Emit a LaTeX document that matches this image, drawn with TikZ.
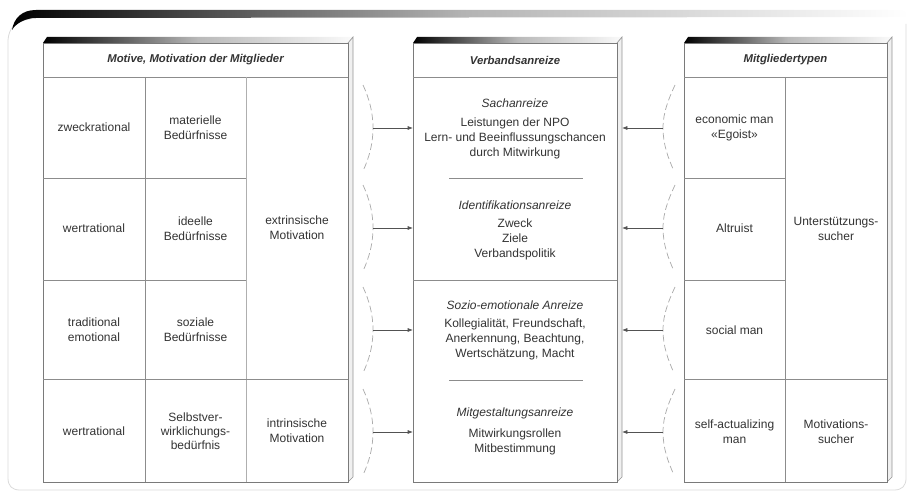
\documentclass[tikz,border=0pt]{standalone}
\usepackage{fontspec}
\setmainfont{Liberation Sans}
\usetikzlibrary{arrows.meta}
\definecolor{ink}{HTML}{333333}
\definecolor{rulecol}{HTML}{8C8C8C}
\definecolor{edgecol}{HTML}{7A7A7A}

\begin{document}
\begin{tikzpicture}[x=0.75pt,y=-0.75pt,
  txt/.style={text=ink, font=\fontsize{9}{11.25}\selectfont, align=center, inner sep=0pt},
  ttl/.style={text=ink, font=\fontsize{9}{11.25}\selectfont\itshape, align=center, inner sep=0pt},
  hdr/.style={text=ink, font=\fontsize{8.5}{10}\selectfont\bfseries\itshape, align=center, inner sep=0pt},
  gridline/.style={draw=rulecol, line width=0.5pt},
  face/.style={draw=edgecol, line width=0.6pt, fill=white, outer sep=0pt, inner sep=0pt, anchor=north west},
  sideface/.style={draw=edgecol!80, line width=0.5pt, fill=gray!12},
  topface/.style={left color=black, right color=gray!4, middle color=gray!55},
  brace/.style={draw=gray!65, dash pattern=on 5pt off 2.5pt, line width=0.55pt},
  conn/.style={draw=ink!85, line width=0.5pt, -{Latex[length=4pt,width=3pt]}},
]
\useasboundingbox (0,0) rectangle (912,495);

% outer frame with its shaded top bar
\draw[gray!28, line width=0.6pt] (30,19) .. controls (15,21) and (9,28) .. (8,40)
  -- (8,478) .. controls (8,486) and (12,490) .. (20,490) -- (894,490)
  .. controls (902,490) and (906,486) .. (906,478) -- (906,24);
\shade[left color=black, right color=white, middle color=gray!60]
  (12,30) .. controls (14,18) and (22,10) .. (36,10) -- (900,10)
  .. controls (904,10) and (906,12) .. (908,17) -- (36,18)
  .. controls (26,18) and (16,23) .. (12,30) -- cycle;

% ---- left slab: motives
\shade[topface] (43,43) -- (47,37) -- (353,37) -- (348,43) -- cycle;
\draw[sideface] (348,43) -- (353,37) -- (353,477) -- (348,482) -- cycle;
\node[face, minimum width=305*0.75pt, minimum height=439*0.75pt] (motive) at (43,43) {};
\draw[gridline] (43,77) -- (348,77);
\draw[gridline] (145,77) -- (145,482);
\draw[gridline, draw=rulecol!70] (246,77) -- (246,482);
\draw[gridline] (43,178) -- (246,178);
\draw[gridline] (43,280) -- (246,280);
\draw[gridline] (43,379) -- (348,379);

\node[hdr] (motiveH) at (195.5,60) {Motive, Motivation der Mitglieder};
\node[txt] (m11) at (94,127.5) {zweckrational};
\node[txt] (m12) at (195.5,127.5) {materielle\\Bedürfnisse};
\node[txt] (m21) at (94,228.5) {wertrational};
\node[txt] (m22) at (195.5,228.5) {ideelle\\Bedürfnisse};
\node[txt] (mext) at (297,228) {extrinsische\\Motivation};
\node[txt] (m31) at (94,329.5) {traditional\\emotional};
\node[txt] (m32) at (195.5,329.5) {soziale\\Bedürfnisse};
\node[txt] (m41) at (94,431) {wertrational};
\node[txt, font=\fontsize{9}{10.5}\selectfont] (m42) at (195.5,431) {Selbstver-\\wirklichungs-\\bedürfnis};
\node[txt] (mint) at (297,431) {intrinsische\\Motivation};

% ---- middle slab: incentives
\shade[topface] (413,43) -- (417,37) -- (622,37) -- (617,43) -- cycle;
\draw[sideface] (617,43) -- (622,37) -- (622,477) -- (617,482) -- cycle;
\node[face, minimum width=204*0.75pt, minimum height=439*0.75pt] (mid) at (413,43) {};
\draw[gridline] (413,77) -- (617,77);
\draw[gridline] (413,280) -- (617,280);
\draw[gridline] (449,178) -- (583,178);
\draw[gridline] (449,380) -- (583,380);

\node[hdr] (midH) at (515,60) {Verbandsanreize};
\node[ttl] (a1) at (515,103) {Sachanreize};
\node[txt] (a1b) at (515,138) {Leistungen der NPO\\Lern- und Beeinflussungschancen\\durch Mitwirkung};
\node[ttl] (a2) at (515,205) {Identifikationsanreize};
\node[txt] (a2b) at (515,239.5) {Zweck\\Ziele\\Verbandspolitik};
\node[ttl] (a3) at (515,305) {Sozio-emotionale Anreize};
\node[txt] (a3b) at (515,339.5) {Kollegialität, Freundschaft,\\Anerkennung, Beachtung,\\Wertschätzung, Macht};
\node[ttl] (a4) at (515,413) {Mitgestaltungsanreize};
\node[txt] (a4b) at (515,441.5) {Mitwirkungsrollen\\Mitbestimmung};

% ---- right slab: member types
\shade[topface] (684,43) -- (688,37) -- (892,37) -- (887,43) -- cycle;
\draw[sideface] (887,43) -- (892,37) -- (892,477) -- (887,482) -- cycle;
\node[face, minimum width=203*0.75pt, minimum height=439*0.75pt] (types) at (684,43) {};
\draw[gridline] (684,77) -- (887,77);
\draw[gridline] (785,77) -- (785,482);
\draw[gridline] (684,178) -- (785,178);
\draw[gridline] (684,280) -- (785,280);
\draw[gridline] (684,379) -- (887,379);

\node[hdr] (typesH) at (785.5,60) {Mitgliedertypen};
\node[txt] (t1) at (734.5,128) {economic man\\«Egoist»};
\node[txt] (t2) at (734.5,228.5) {Altruist};
\node[txt] (t3) at (734.5,330) {social man};
\node[txt] (t4) at (734.5,432) {self-actualizing\\man};
\node[txt] (tsup) at (836,229) {Unterstützungs-\\sucher};
\node[txt] (tmot) at (836,432) {Motivations-\\sucher};

% ---- dashed braces and arrows into the incentives slab
\foreach \n/\y in {1/128,2/228,3/330,4/432} {
  \coordinate (lb\n) at (373,\y);
  \coordinate (rb\n) at (663,\y);
  \draw[brace] ([shift={(-10,-43)}]lb\n) .. controls +(6,13) and +(0,-16) .. (lb\n)
    .. controls +(0,16) and +(6,-13) .. ([shift={(-10,43)}]lb\n);
  \draw[brace] ([shift={(12,-43)}]rb\n) .. controls +(-6,13) and +(0,-16) .. (rb\n)
    .. controls +(0,16) and +(-6,-13) .. ([shift={(11,43)}]rb\n);
  \draw[conn] (lb\n) -- (lb\n -| mid.west);
  \draw[conn] (rb\n) -- ([xshift=3.75pt]rb\n -| mid.east);
}
\end{tikzpicture}
\end{document}
